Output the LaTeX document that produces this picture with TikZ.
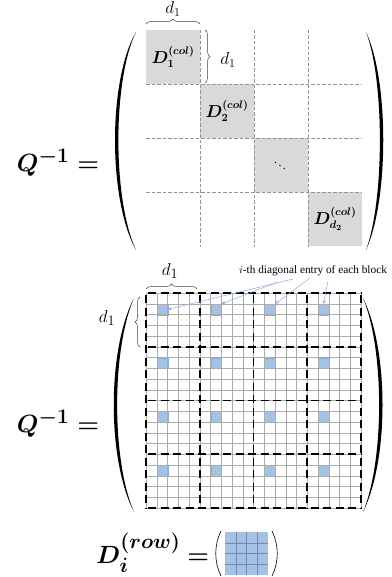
\documentclass[tikz,border=0pt]{standalone}
\usepackage{amsmath}
\usepackage{fontspec}
\setmainfont{Liberation Serif}
\usetikzlibrary{decorations.pathreplacing,arrows.meta}
\definecolor{cellgray}{HTML}{D9D9D9}
\definecolor{cellblue}{HTML}{A6C1E3}
\definecolor{blueedge}{HTML}{8EABD6}
\definecolor{arrowblue}{HTML}{8FAADC}
\definecolor{minigrid}{HTML}{6E8BB3}
\begin{document}
\begin{tikzpicture}[x=1pt,y=-1pt,
  blockdash/.style={draw=black,line width=1.7pt,dash pattern=on 8pt off 4.5pt,dash phase=-2pt},
  graydash/.style={draw=gray!85,line width=0.6pt,dash pattern=on 3.5pt off 2pt},
  thingrid/.style={draw=gray!65,line width=0.5pt},
  graycell/.style={fill=cellgray,draw=none},
  bluesq/.style={fill=cellblue,draw=blueedge,line width=0.4pt,minimum size=10.75pt,inner sep=0pt,anchor=north west},
  parfill/.style={fill=black,draw=none},
  bracestyle/.style={decorate,decoration={brace,amplitude=5pt},line width=0.5pt,draw=black!75},
  callout/.style={draw=arrowblue,line width=0.5pt,-{Stealth[length=3.5pt,width=3pt]}},
  bigmath/.style={font=\fontsize{31}{36}\selectfont},
  blocklbl/.style={font=\fontsize{16}{18}\selectfont},
  dlbl/.style={font=\fontsize{17}{19}\selectfont},
  dlblb/.style={font=\fontsize{19}{21}\selectfont},
]
\useasboundingbox (0,0) rectangle (391,577);

% ================= top matrix =================
\fill[graycell] (146,30) rectangle (200,84);
\fill[graycell] (200,84) rectangle (254,138);
\fill[graycell] (254,138) rectangle (308,192);
\fill[graycell] (308,192) rectangle (362,246);
\foreach \xx in {200,254,308} {\draw[graydash] (\xx,30) -- (\xx,247);}
\foreach \yy in {84,138,192} {\draw[graydash] (146,\yy) -- (362,\yy);}
\node[blocklbl] (D1) at (173,57) {$\boldsymbol{D_1^{(col)}}$};
\node[blocklbl] (D2) at (227,111) {$\boldsymbol{D_2^{(col)}}$};
\node[font=\fontsize{12}{14}\selectfont] (Ddots) at (280,163) {$\ddots$};
\node[blocklbl] (D3) at (335,219) {$\boldsymbol{D_{d_2}^{(col)}}$};

% braces top
\draw[bracestyle] (146,24) -- (200,24);
\node[dlbl] (tdA) at (173,9) {$d_1$};
\draw[bracestyle] (205,30) -- (205,83);
\node[dlbl] (tdB) at (228,60) {$d_1$};

% parentheses top
\fill[parfill] (136,32) .. controls (108,80) and (108,200) .. (136,250)
  .. controls (112.5,200) and (112.5,80) .. (136,32);
\fill[parfill] (366,32) .. controls (389,80) and (389,200) .. (366,250)
  .. controls (384.5,200) and (384.5,80) .. (366,32);

\node[bigmath] (Qtop) at (58,163) {$\boldsymbol{Q^{-1}=}$};

% ================= bottom matrix =================
\foreach \ra in {0,1,2,3} {
  \foreach \ca in {0,1,2,3} {
    \node[bluesq] (b\ra\ca) at ({146+(5*\ca+1)*10.75},{293+(5*\ra+1)*10.75}) {};
  }
}
\foreach \nn in {0,...,20} {
  \draw[thingrid] ({146+\nn*10.75},293) -- ({146+\nn*10.75},508);
  \draw[thingrid] (146,{293+\nn*10.75}) -- (361,{293+\nn*10.75});
}
\foreach \kk in {0,...,4} {
  \draw[blockdash] ({146+\kk*53.75},293) -- ({146+\kk*53.75},508);
  \draw[blockdash] (146,{293+\kk*53.75}) -- (361,{293+\kk*53.75});
}

% braces bottom
\draw[bracestyle] (146,289) -- (197,289);
\node[dlblb] (bdA) at (170,271) {$d_1$};
\draw[bracestyle] (140,347) -- (140,297);
\node[dlblb] (bdB) at (107,318) {$d_1$};

% callout
\node[font=\fontsize{11.3}{13}\selectfont] (lbl) at (313,271) {$i$-th diagonal entry of each block};
\coordinate (s1) at (293,279);
\coordinate (s2) at (278,282);
\coordinate (s3) at (310,278);
\coordinate (s4) at (328,281);
\draw[callout] (s1) -- (b00.east);
\draw[callout] (s2) -- (b01.north east);
\draw[callout] (s3) -- (b02.north east);
\draw[callout] (s4) -- (b03.north);

% parentheses bottom
\fill[parfill] (134,298) .. controls (107,350) and (107,460) .. (134,512)
  .. controls (111.5,460) and (111.5,350) .. (134,298);
\fill[parfill] (363,298) .. controls (389,350) and (389,460) .. (363,512)
  .. controls (384.5,460) and (384.5,350) .. (363,298);

\node[bigmath] (Qbot) at (58,424) {$\boldsymbol{Q^{-1}=}$};

% ================= D_i^(row) =================
\node[bigmath,anchor=base west,inner sep=0pt] (Drow) at (96,563) {$\boldsymbol{D_i^{(row)}}\boldsymbol{=}$};
\fill[cellblue] (225,532) rectangle (268,575);
\foreach \mm in {1,2,3} {
  \draw[minigrid,line width=0.5pt] ({225+\mm*10.75},532) -- ({225+\mm*10.75},575);
  \draw[minigrid,line width=0.5pt] (225,{532+\mm*10.75}) -- (268,{532+\mm*10.75});
}
\draw[line width=0.6pt] (221,531) .. controls (214,545) and (214,562) .. (221,576);
\draw[line width=0.6pt] (272,531) .. controls (279,545) and (279,562) .. (272,576);
\end{tikzpicture}
\end{document}
